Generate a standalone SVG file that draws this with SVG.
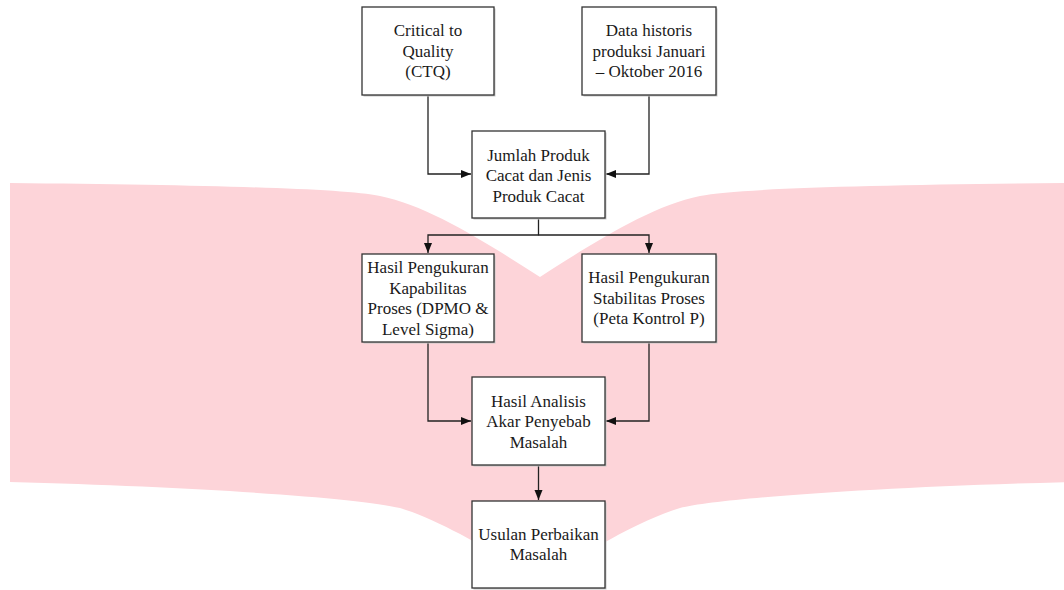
<svg xmlns="http://www.w3.org/2000/svg" width="1064" height="590" viewBox="0 0 1064 590">
<defs>
<style>
.box{fill:#ffffff;stroke:#333333;stroke-width:1.3}
.shadow{fill:#c8c8c8}
.lbl{font-size:17px;fill:#1a1a1a;text-anchor:middle}
.wire{fill:none;stroke:#222222;stroke-width:1.3}
.wing{fill:#fdd4d9}
</style>
<marker id="arr" markerUnits="userSpaceOnUse" markerWidth="10" markerHeight="10" viewBox="0 0 10 10" refX="10" refY="5" orient="auto">
<path d="M0,1 L10,5 L0,9 Z" fill="#111111"/>
</marker>
<path id="wingShape" d="M10,183 C200,185 340,188 380,196 C430,206 490,245 540,277 L540,590 L540,582 C500,555 440,520 400,508 C360,498 200,487 10,482 Z"/>
</defs>
<g id="background">
<use href="#wingShape" class="wing"/>
<use href="#wingShape" class="wing" transform="translate(1080,0) scale(-1,1)"/>
</g>
<g id="connectors">
<path class="wire" d="M428,95 V174 H471" marker-end="url(#arr)"/>
<path class="wire" d="M649,95 V174 H606" marker-end="url(#arr)"/>
<path class="wire" d="M538.5,218 V235 H428 V253" marker-end="url(#arr)"/>
<path class="wire" d="M538.5,235 H649 V253" marker-end="url(#arr)"/>
<path class="wire" d="M428,342 V421 H471" marker-end="url(#arr)"/>
<path class="wire" d="M649,342 V421 H606" marker-end="url(#arr)"/>
<path class="wire" d="M538.5,465 V500" marker-end="url(#arr)"/>
</g>
<g id="nodes" font-family="Liberation Serif, Tinos, Times New Roman, DejaVu Serif, serif">
<g id="node-ctq">
<rect class="shadow" x="363.5" y="8.5" width="132" height="88"/>
<rect class="box" x="362" y="7" width="132" height="88"/>
<text class="lbl" x="428" y="36">Critical to</text>
<text class="lbl" x="428" y="56.5">Quality</text>
<text class="lbl" x="428" y="77">(CTQ)</text>
</g>
<g id="node-data">
<rect class="shadow" x="583.5" y="8.5" width="134" height="88"/>
<rect class="box" x="582" y="7" width="134" height="88"/>
<text class="lbl" x="649" y="36">Data historis</text>
<text class="lbl" x="649" y="56.5">produksi Januari</text>
<text class="lbl" x="649" y="77">– Oktober 2016</text>
</g>
<g id="node-jumlah">
<rect class="shadow" x="473.5" y="132.5" width="133" height="87"/>
<rect class="box" x="472" y="131" width="133" height="87"/>
<text class="lbl" x="538.5" y="160.5">Jumlah Produk</text>
<text class="lbl" x="538.5" y="181">Cacat dan Jenis</text>
<text class="lbl" x="538.5" y="201.5">Produk Cacat</text>
</g>
<g id="node-kapabilitas">
<rect class="shadow" x="363.5" y="255.5" width="132" height="88"/>
<rect class="box" x="362" y="254" width="132" height="88"/>
<text class="lbl" x="428" y="273">Hasil Pengukuran</text>
<text class="lbl" x="428" y="293.5">Kapabilitas</text>
<text class="lbl" x="428" y="314">Proses (DPMO &amp;</text>
<text class="lbl" x="428" y="334.5">Level Sigma)</text>
</g>
<g id="node-stabilitas">
<rect class="shadow" x="583.5" y="255.5" width="134" height="88"/>
<rect class="box" x="582" y="254" width="134" height="88"/>
<text class="lbl" x="649" y="283">Hasil Pengukuran</text>
<text class="lbl" x="649" y="303.5">Stabilitas Proses</text>
<text class="lbl" x="649" y="324">(Peta Kontrol P)</text>
</g>
<g id="node-analisis">
<rect class="shadow" x="473.5" y="378.5" width="133" height="88"/>
<rect class="box" x="472" y="377" width="133" height="88"/>
<text class="lbl" x="538.5" y="406.5">Hasil Analisis</text>
<text class="lbl" x="538.5" y="427">Akar Penyebab</text>
<text class="lbl" x="538.5" y="447.5">Masalah</text>
</g>
<g id="node-usulan">
<rect class="shadow" x="473.5" y="502.5" width="133" height="87"/>
<rect class="box" x="472" y="501" width="133" height="87"/>
<text class="lbl" x="538.5" y="540">Usulan Perbaikan</text>
<text class="lbl" x="538.5" y="560">Masalah</text>
</g>
</g>
</svg>
